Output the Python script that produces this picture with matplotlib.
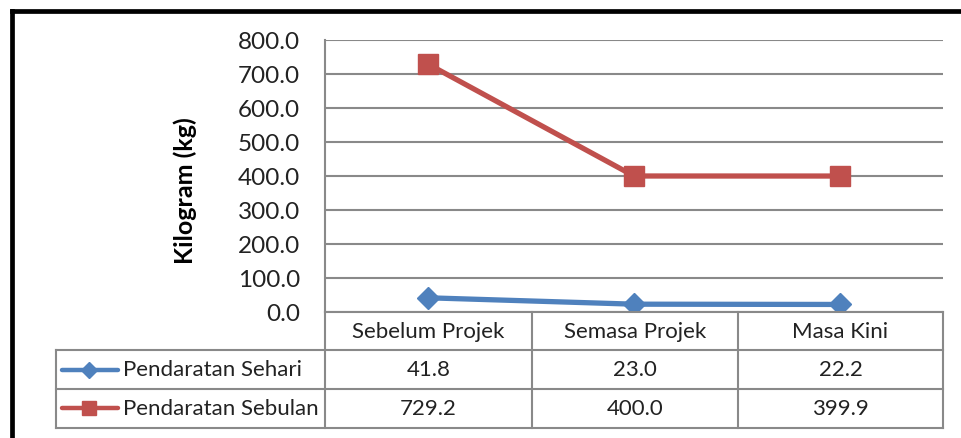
import matplotlib.pyplot as plt
from matplotlib.lines import Line2D

# data
categories = ["Sebelum Projek", "Semasa Projek", "Masa Kini"]
sehari = [41.8, 23.0, 22.2]
sebulan = [729.2, 400.0, 399.9]
series_names = ["Pendaratan Sehari", "Pendaratan Sebulan"]
yticks = [0, 100, 200, 300, 400, 500, 600, 700, 800]

BLUE = "#4F81BD"
RED = "#C0504D"
GRID = "#898989"
TXT = "#222222"

plt.rcParams["font.family"] = ["Lato", "DejaVu Sans"]

W, H = 961, 439
fig = plt.figure(figsize=(W / 100, H / 100), dpi=100)

# plot area, in pixels
px0, px1, py0, py1 = 325, 943, 41, 313
ax = fig.add_axes([px0 / W, 1 - py1 / H, (px1 - px0) / W, (py1 - py0) / H])
x = range(len(categories))
ax.plot(x, sebulan, color=RED, lw=3.8, marker="s", ms=15, zorder=3)
ax.plot(x, sehari, color=BLUE, lw=3.8, marker="D", ms=11, zorder=3)
ax.set_xlim(-0.5, len(categories) - 0.5)
ax.set_ylim(0, 800)
ax.set_yticks(yticks)
ax.set_yticklabels([f"{v:.1f}" for v in yticks], fontsize=17.5, color=TXT)
ax.set_xticks([])
ax.tick_params(axis="y", length=0, pad=18)
ax.grid(axis="y", color=GRID, lw=1.5)
ax.set_axisbelow(True)
for s in ["top", "right", "bottom"]:
    ax.spines[s].set_visible(False)
ax.spines["left"].set_color(GRID)
ax.spines["left"].set_linewidth(1.5)

# overlay in pixel coords for frame, axis title + data table
ov = fig.add_axes([0, 0, 1, 1])
ov.set_xlim(0, W)
ov.set_ylim(H, 0)
ov.axis("off")

ov.text(185, 191, "Kilogram (kg)", rotation=90, ha="center", va="center",
        fontsize=18, fontweight="bold", color="black")

# outer frame (only top/left visible in crop)
ov.add_line(Line2D([11.5, 11.5], [11.5, H], color="black", lw=3.4))
ov.add_line(Line2D([11.5, W], [11.5, 11.5], color="black", lw=3.4))

cols = [px0, 532, 738, px1]
rows = [313, 351, 390, 429]
tl = 56
kw = dict(color=GRID, lw=1.5)
# horizontal
ov.add_line(Line2D([px0, px1], [rows[0]] * 2, **kw))
for r in rows[1:]:
    ov.add_line(Line2D([tl, px1], [r] * 2, **kw))
# vertical
for c in cols:
    ov.add_line(Line2D([c, c], [rows[0], rows[-1]], **kw))
ov.add_line(Line2D([tl, tl], [rows[1], rows[-1]], **kw))

fs = 16
for i, cat in enumerate(categories):
    cx = (cols[i] + cols[i + 1]) / 2
    ov.text(cx, (rows[0] + rows[1]) / 2, cat, ha="center", va="center", fontsize=fs, color=TXT)
    ov.text(cx, (rows[1] + rows[2]) / 2, f"{sehari[i]:.1f}", ha="center", va="center", fontsize=fs, color=TXT)
    ov.text(cx, (rows[2] + rows[3]) / 2, f"{sebulan[i]:.1f}", ha="center", va="center", fontsize=fs, color=TXT)

# legend keys inside the table
for j, (name, col, mk, ms) in enumerate([(series_names[0], BLUE, "D", 8), (series_names[1], RED, "s", 10)]):
    yc = (rows[j + 1] + rows[j + 2]) / 2
    ov.add_line(Line2D([62, 118], [yc, yc], color=col, lw=3.2, solid_capstyle="round"))
    ov.plot([89], [yc], marker=mk, ms=ms, color=col)
    ov.text(123, yc, name, ha="left", va="center", fontsize=fs, color=TXT)

fig.savefig("out.png", dpi=100)
